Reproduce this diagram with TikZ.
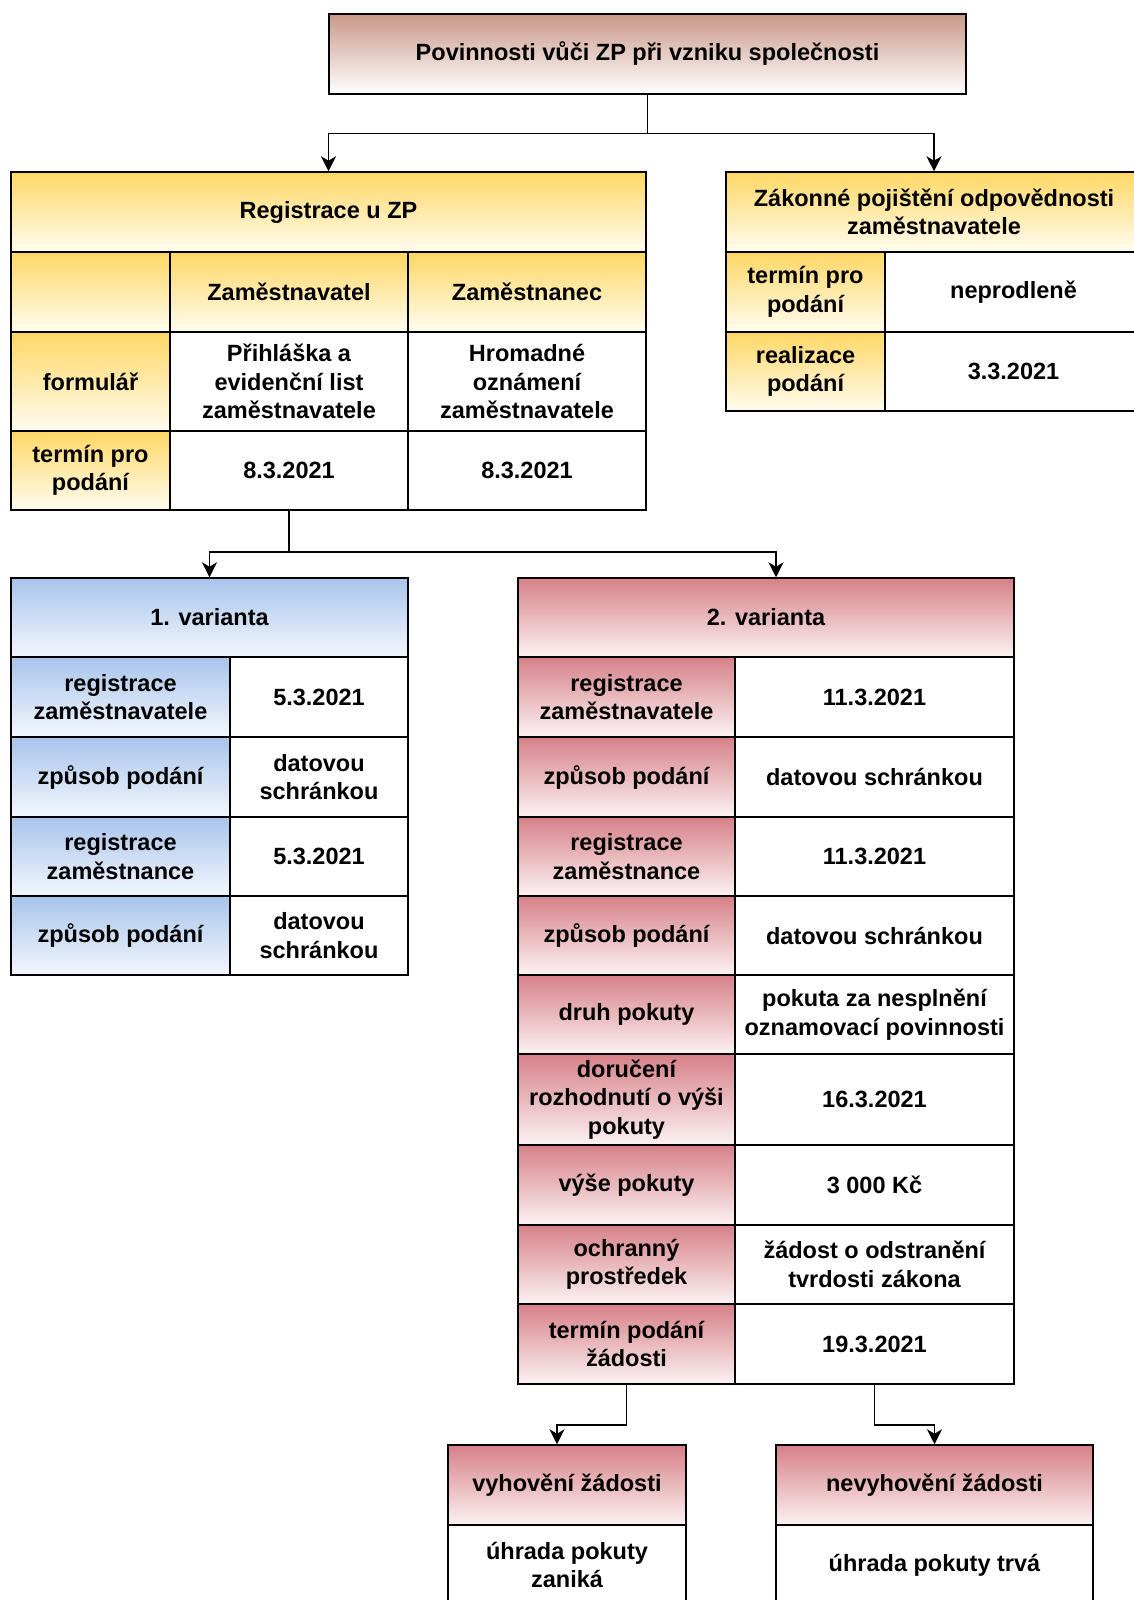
\documentclass[tikz,border=0pt]{standalone}
\usepackage{fontspec}
\setmainfont{Liberation Sans}
\usepackage{xcolor}
\usepackage{tikz}
\usetikzlibrary{arrows.meta}

\definecolor{headtop}{RGB}{201,152,137}
\definecolor{yeltop}{RGB}{255,215,100}
\definecolor{yelbot}{RGB}{255,252,240}
\definecolor{bluetop}{RGB}{168,196,235}
\definecolor{bluebot}{RGB}{243,247,253}
\definecolor{redtop}{RGB}{214,128,136}
\definecolor{redbot}{RGB}{252,242,243}

\begin{document}
\begin{tikzpicture}[x=1pt,y=-1pt,
  cellbox/.style={draw,line width=1.5pt,inner sep=2pt,align=center,
    font=\fontsize{23.5}{28.5}\selectfont\bfseries},
  whitecell/.style={fill=white},
  headcell/.style={top color=headtop,bottom color=white},
  yel/.style={top color=yeltop,bottom color=yelbot},
  blu/.style={top color=bluetop,bottom color=bluebot},
  red/.style={top color=redtop,bottom color=redbot},
  link/.style={line width=1.5pt,-{Stealth[length=15pt,width=15pt,inset=4.5pt]}}]
\useasboundingbox (0,0) rectangle (1133,1600);
\newcommand{\tcell}[7]{%
  \node[cellbox,#6,minimum width={#4-#2},minimum height={#5-#3}]
    (#1) at ({(#2+#4)/2},{(#3+#5)/2}) {#7};
}
% top
\tcell{head}{329}{14}{966}{94}{headcell}{Povinnosti vůči ZP při vzniku společnosti}
% registrace
\tcell{regtitle}{11}{172}{646}{252}{yel}{Registrace u ZP}
\tcell{reg00}{11}{252}{170}{332}{yel}{}
\tcell{reg01}{170}{252}{408}{332}{yel}{Zaměstnavatel}
\tcell{reg02}{408}{252}{646}{332}{yel}{Zaměstnanec}
\tcell{reg10}{11}{332}{170}{431}{yel}{formulář}
\tcell{reg11}{170}{332}{408}{431}{whitecell}{Přihláška a\\evidenční list\\zaměstnavatele}
\tcell{reg12}{408}{332}{646}{431}{whitecell}{Hromadné\\oznámení\\zaměstnavatele}
\tcell{reg20}{11}{431}{170}{510}{yel}{termín pro\\podání}
\tcell{reg21}{170}{431}{408}{510}{whitecell}{8.3.2021}
\tcell{reg22}{408}{431}{646}{510}{whitecell}{8.3.2021}
% zakonne pojisteni
\tcell{zaktitle}{726}{172}{1142}{252}{yel}{Zákonné pojištění odpovědnosti\\zaměstnavatele}
\tcell{zak10}{726}{252}{885}{332}{yel}{termín pro\\podání}
\tcell{zak11}{885}{252}{1142}{332}{whitecell}{neprodleně}
\tcell{zak20}{726}{332}{885}{411}{yel}{realizace\\podání}
\tcell{zak21}{885}{332}{1142}{411}{whitecell}{3.3.2021}
% 1. varianta
\tcell{varatitle}{11}{578}{408}{657}{blu}{1. varianta}
\tcell{vara10}{11}{657}{230}{737}{blu}{registrace\\zaměstnavatele}
\tcell{vara11}{230}{657}{408}{737}{whitecell}{5.3.2021}
\tcell{vara20}{11}{737}{230}{817}{blu}{způsob podání}
\tcell{vara21}{230}{737}{408}{817}{whitecell}{datovou\\schránkou}
\tcell{vara30}{11}{817}{230}{896}{blu}{registrace\\zaměstnance}
\tcell{vara31}{230}{817}{408}{896}{whitecell}{5.3.2021}
\tcell{vara40}{11}{896}{230}{975}{blu}{způsob podání}
\tcell{vara41}{230}{896}{408}{975}{whitecell}{datovou\\schránkou}
% 2. varianta
\tcell{varbtitle}{518}{578}{1014}{657}{red}{2. varianta}
\tcell{varb10}{518}{657}{735}{737}{red}{registrace\\zaměstnavatele}
\tcell{varb11}{735}{657}{1014}{737}{whitecell}{11.3.2021}
\tcell{varb20}{518}{737}{735}{817}{red}{způsob podání}
\tcell{varb21}{735}{737}{1014}{817}{whitecell}{datovou schránkou}
\tcell{varb30}{518}{817}{735}{896}{red}{registrace\\zaměstnance}
\tcell{varb31}{735}{817}{1014}{896}{whitecell}{11.3.2021}
\tcell{varb40}{518}{896}{735}{975}{red}{způsob podání}
\tcell{varb41}{735}{896}{1014}{975}{whitecell}{datovou schránkou}
\tcell{varb50}{518}{975}{735}{1054}{red}{druh pokuty}
\tcell{varb51}{735}{975}{1014}{1054}{whitecell}{pokuta za nesplnění\\oznamovací povinnosti}
\tcell{varb60}{518}{1054}{735}{1145}{red}{doručení\\rozhodnutí o výši\\pokuty}
\tcell{varb61}{735}{1054}{1014}{1145}{whitecell}{16.3.2021}
\tcell{varb70}{518}{1145}{735}{1225}{red}{výše pokuty}
\tcell{varb71}{735}{1145}{1014}{1225}{whitecell}{3 000 Kč}
\tcell{varb80}{518}{1225}{735}{1304}{red}{ochranný\\prostředek}
\tcell{varb81}{735}{1225}{1014}{1304}{whitecell}{žádost o odstranění\\tvrdosti zákona}
\tcell{varb90}{518}{1304}{735}{1384}{red}{termín podání\\žádosti}
\tcell{varb91}{735}{1304}{1014}{1384}{whitecell}{19.3.2021}
% zadost
\tcell{yestitle}{448}{1445}{686}{1525}{red}{vyhovění žádosti}
\tcell{yesbody}{448}{1525}{686}{1605}{whitecell}{úhrada pokuty\\zaniká}
\tcell{notitle}{776}{1445}{1093}{1525}{red}{nevyhovění žádosti}
\tcell{nobody}{776}{1525}{1093}{1605}{whitecell}{úhrada pokuty trvá}
% connectors
\draw[link] (head.south) -- ++(0,39) -| (regtitle.north);
\draw[link] (head.south) -- ++(0,39) -| (zaktitle.north);
\draw[link] (reg21.south) -- ++(0,41) -| (varatitle.north);
\draw[link] (reg21.south) -- ++(0,41) -| ([xshift=10pt]varbtitle.north);
\draw[link] (varb90.south) -- ++(0,40) -| ([xshift=-10pt]yestitle.north);
\draw[link] (varb91.south) -- ++(0,40) -| (notitle.north);
\end{tikzpicture}
\end{document}
